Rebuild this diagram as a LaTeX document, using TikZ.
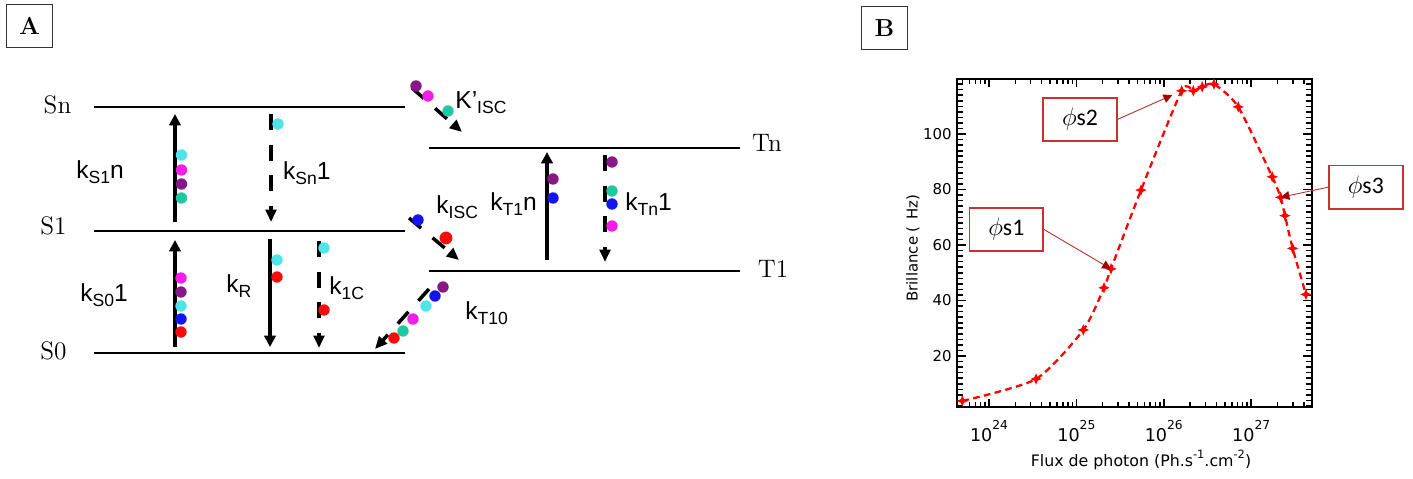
\documentclass[tikz,border=0pt]{standalone}
\usepackage{fontspec}
\newfontfamily\arialfont{Liberation Sans}
\newfontfamily\axisfont{DejaVu Sans}
\newfontfamily\calfont{Carlito}
\usetikzlibrary{arrows.meta,shapes.geometric}

\definecolor{dcyan}{RGB}{80,228,232}
\definecolor{dmagenta}{RGB}{240,30,230}
\definecolor{dpurple}{RGB}{135,25,135}
\definecolor{dteal}{RGB}{30,200,160}
\definecolor{dblue}{RGB}{20,20,240}
\definecolor{dred}{RGB}{250,10,10}
\definecolor{boxred}{RGB}{200,50,50}
\definecolor{tipred}{RGB}{165,0,0}

\newcommand{\rsub}[1]{\raisebox{-2.8pt}{\fontsize{10}{10}\selectfont #1}}
\newcommand{\rsup}[1]{\raisebox{4.5pt}{\fontsize{6.5}{6.5}\selectfont #1}}

\tikzset{
  enlevel/.style={line width=1.1pt},
  lvlabel/.style={font=\fontsize{14.4}{14.4}\selectfont, inner sep=0pt, anchor=base},
  rate/.style={font=\arialfont\fontsize{14}{14}\selectfont, inner sep=0pt, anchor=base west},
  solidarr/.style={line width=1.8pt, -{Triangle[length=6.5pt,width=6.5pt]}},
  dasharr/.style={line width=2pt, dash pattern=on 9pt off 8.5pt, -{Triangle[length=7pt,width=6pt]}},
  ball/.style={circle, fill=#1, inner sep=0pt, minimum size=6.5pt},
  panel/.style={draw=black!80, line width=0.6pt, minimum width=26pt, minimum height=25pt,
    inner sep=0pt, font=\fontsize{14}{14}\selectfont\bfseries},
  frame/.style={line width=1.2pt},
  axtick/.style={line width=0.9pt},
  axnum/.style={font=\axisfont\fontsize{8.5}{8.5}\selectfont, inner sep=0pt},
  curve/.style={red, line width=1.3pt, dash pattern=on 3.8pt off 2.5pt},
  ptmark/.style={star, star points=4, star point ratio=2.4, fill=red, inner sep=0pt, minimum size=6.5pt},
  callout/.style={draw=boxred, line width=0.9pt, fill=white, minimum width=42pt, minimum height=24.5pt,
    inner sep=0pt, font=\calfont\fontsize{13.5}{13.5}\selectfont},
  callline/.style={draw=boxred!90!black, line width=0.5pt, -{Triangle[length=5pt,width=5pt,color=tipred]}}
}

\begin{document}
\begin{tikzpicture}[x=0.02cm, y=-0.02cm]
\useasboundingbox (0,0) rectangle (1413,479);

% panel letters
\node[panel] (pa) at (29.7,26) {A};
\node[panel] (pb) at (884.5,28) {B};

% energy levels
\draw[enlevel] (94,107) -- (405,107);
\draw[enlevel] (94,231) -- (405,231);
\draw[enlevel] (94,353) -- (405,353);
\draw[enlevel] (429,148) -- (740,148);
\draw[enlevel] (429,271) -- (740,271);

\node[lvlabel] (sn) at (57.5,114) {Sn};
\node[lvlabel] (s1) at (53.5,235) {S1};
\node[lvlabel] (s0) at (53.5,359) {S0};
\node[lvlabel] (tn) at (767,151.5) {Tn};
\node[lvlabel] (t1) at (773,278) {T1};

% rates
\node[rate] (ks1n) at (76,178.3) {k\rsub{S1}n};
\node[rate] (ksn1) at (282.7,180) {k\rsub{Sn}1};
\node[rate] (ks01) at (80,301.7) {k\rsub{S0}1};
\node[rate] (kr) at (226,292.7) {k\rsub{R}};
\node[rate] (k1c) at (329,295) {k\rsub{1C}};
\node[rate] (kpisc) at (455,108.3) {K’\rsub{ISC}};
\node[rate] (kisc) at (436,214) {k\rsub{ISC}};
\node[rate] (kt1n) at (490,210.7) {k\rsub{T1}n};
\node[rate] (ktn1) at (625,210.7) {k\rsub{Tn}1};
\node[rate] (kt10) at (465,320) {k\rsub{T10}};

% transitions
\coordinate (ks1n-s) at (175,222);  \coordinate (ks1n-e) at (175,114);
\coordinate (ksn1-s) at (271,114);  \coordinate (ksn1-e) at (271,222);
\coordinate (ks01-s) at (175,347);  \coordinate (ks01-e) at (175,240);
\coordinate (kr-s) at (270,239);    \coordinate (kr-e) at (270,347);
\coordinate (k1c-s) at (319,241);   \coordinate (k1c-e) at (319,348);
\coordinate (kpisc-s) at (412,88);  \coordinate (kpisc-e) at (462,132);
\coordinate (kisc-s) at (409,218);  \coordinate (kisc-e) at (459,260);
\coordinate (kt1n-s) at (547,260);  \coordinate (kt1n-e) at (547,152);
\coordinate (ktn1-s) at (605,155);  \coordinate (ktn1-e) at (605,262);
\coordinate (kt10-s) at (429,289);  \coordinate (kt10-e) at (375,349);

\draw[solidarr] (ks1n-s) -- (ks1n-e);
\draw[dasharr] (ksn1-s) -- (ksn1-e);
\draw[solidarr] (ks01-s) -- (ks01-e);
\draw[solidarr] (kr-s) -- (kr-e);
\draw[dasharr] (k1c-s) -- (k1c-e);
\draw[dasharr] (kpisc-s) -- (kpisc-e);
\draw[dasharr] (kisc-s) -- (kisc-e);
\draw[solidarr] (kt1n-s) -- (kt1n-e);
\draw[dasharr] (ktn1-s) -- (ktn1-e);
\draw[dasharr] (kt10-s) -- (kt10-e);

% molecules
\foreach \c/\px/\py [count=\i] in {
  dcyan/181.5/155, dmagenta/181.5/170, dpurple/181.5/184, dteal/181.5/198,
  dcyan/278/124,
  dmagenta/181/278, dpurple/181/292, dcyan/181/306, dblue/181/319, dred/181/332,
  dcyan/277/260, dred/277/277,
  dcyan/324/248, dred/324/310,
  dpurple/416/86, dmagenta/428/96, dteal/448/111,
  dblue/418/220,
  dpurple/553/179, dblue/553/198,
  dpurple/612/162, dteal/612/191, dblue/612/204, dmagenta/612/226,
  dpurple/443/287, dblue/435/296, dcyan/426/306, dmagenta/413/319, dteal/403/331, dred/394/338}
  \node[ball=\c] (m\i) at (\px,\py) {};
\node[ball=dred, minimum size=7.3pt] (mbig) at (446,238) {};

% plot B
\begin{scope}[shift={(989,411.5)}, x=1.748cm, y=0.0555cm]
  \draw[frame] (-0.363,1.51) rectangle (3.692,120);
  \foreach \d in {-1,0,1,2,3}
    \foreach \m in {2,...,9} {
      \pgfmathsetmacro\lx{\d+log10(\m)}
      \ifdim\lx pt>-0.363pt \ifdim\lx pt<3.69pt
        \draw[axtick] (\lx,1.51) -- ++(0,3pt) (\lx,120) -- ++(0,-3pt);
      \fi\fi
    }
  \foreach \d in {0,...,3} {
    \draw[axtick] (\d,1.51) -- ++(0,5pt) (\d,120) -- ++(0,-5pt);
    \pgfmathtruncatemacro\ex{\d+24}
    \node[axnum, anchor=base, font=\axisfont\fontsize{10}{10}\selectfont] (xl\d) at (\d,-10.9)
      {10\raisebox{6.8pt}{\fontsize{7}{7}\selectfont\ex}};
  }
  \foreach \v in {2,4,...,118}
    \draw[axtick] (-0.363,\v) -- ++(3pt,0) (3.692,\v) -- ++(-3pt,0);
  \foreach \v in {20,40,...,100} {
    \draw[axtick] (-0.363,\v) -- ++(5pt,0) (3.692,\v) -- ++(-5pt,0);
    \node[axnum, anchor=east, xshift=-3pt] (yl\v) at (-0.363,\v) {\v};
  }
  \node[axnum, anchor=base, font=\axisfont\fontsize{9}{9}\selectfont] (xtitle) at (1.739,-19.9)
    {Flux de photon (Ph.s\rsup{-1}.cm\rsup{-2})};
  \node[axnum, rotate=90] (ytitle) at (-0.87,58.9) {Brillance (\hspace{0.45em}Hz)};

  % mesures
  \draw[curve] plot[smooth, tension=0.4] coordinates {
    (-0.305,3.8) (0.538,11.7) (1.079,29.4) (1.316,44.6) (1.396,51.4) (1.739,79.8)
    (2.205,115.6) (2.338,115.6) (2.440,117.0) (2.574,118.0) (2.852,109.8)
    (3.241,84.6) (3.337,77.2) (3.387,70.6) (3.475,58.8) (3.627,42.2)};
  \foreach \p [count=\i] in {(-0.305,3.8), (0.538,11.7), (1.079,29.4), (1.316,44.6), (1.396,51.4),
    (1.739,79.8), (2.205,115.6), (2.338,115.6), (2.440,117.0), (2.574,118.0), (2.852,109.8),
    (3.241,84.6), (3.337,77.2), (3.387,70.6), (3.475,58.8), (3.627,42.2)}
    \node[ptmark] (p\i) at \p {};

  \coordinate (tip1) at (1.396,51.4);
  \coordinate (tip2) at (2.097,114.05);
  \coordinate (tip3) at (3.337,77.2);
\end{scope}

% callouts
\node[callout] (fs2) at (1080,119.3) {$\phi$s2};
\node[callout] (fs1) at (1006.3,229.5) {$\phi$s1};
\node[callout] (fs3) at (1365.8,187.2) {$\phi$s3};
\draw[callline] (fs2.east) -- (tip2);
\draw[callline] (fs1.east) -- (tip1);
\draw[callline] (fs3.west) -- (tip3);
\end{tikzpicture}
\end{document}
